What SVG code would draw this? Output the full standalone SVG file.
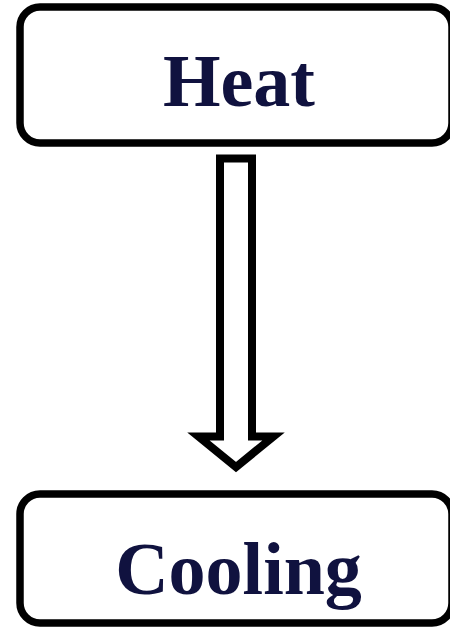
<svg xmlns="http://www.w3.org/2000/svg" width="450" height="630" viewBox="0 0 450 630">
<style>
.box{fill:#fff;stroke:#000;stroke-width:7.5}
.lbl{font-family:"Liberation Serif","Times New Roman",serif;font-weight:bold;font-size:74px;fill:#10123f;text-anchor:middle}
.arrow{fill:#fff;stroke:#000;stroke-width:8;stroke-linejoin:miter}
</style>
<rect width="450" height="630" fill="#fff"/>
<g id="connectors">
<path class="arrow" d="M220 158.5 H252 V436.5 H273.5 L236 467 L198.5 436.5 H220 Z"/>
</g>
<g id="heat">
<rect class="box" x="20" y="7" width="432" height="136" rx="20"/>
<text class="lbl" x="239" y="106">Heat</text>
</g>
<g id="cooling">
<rect class="box" x="20" y="494" width="432" height="129" rx="20"/>
<text class="lbl" x="238.5" y="594">Cooling</text>
</g>
</svg>
